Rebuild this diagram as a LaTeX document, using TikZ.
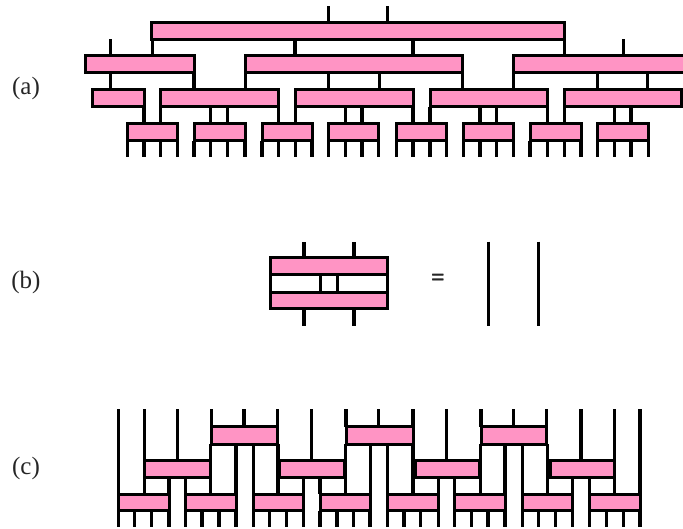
\documentclass[tikz,border=0pt]{standalone}
\usepackage{fontspec}
\setmainfont{Liberation Serif}
\definecolor{tpink}{RGB}{255,148,196}
\tikzset{
  tb/.style={draw=black,fill=tpink,rectangle,inner sep=0pt,outer sep=0pt,line width=3pt},
  wire/.style={draw=black,line width=3.2pt,line cap=butt},
  lab/.style={font=\fontsize{25}{30}\selectfont,inner sep=0pt,text=black!85}
}
% \tbox{name}{x1}{y1}{x2}{y2}
\newcommand{\tbox}[5]{%
  \pgfmathsetmacro{\tcx}{(#2+#4)/2}\pgfmathsetmacro{\tcy}{(#3+#5)/2}%
  \pgfmathsetmacro{\tw}{#4-#2}\pgfmathsetmacro{\th}{#5-#3}%
  \node[tb,minimum width=\tw pt,minimum height=\th pt] (#1) at (\tcx,\tcy) {};}
% \conn{upper node}{lower node}{x}
\newcommand{\conn}[3]{\draw[wire] (#1.south -| #3,0) -- (#2.north -| #3,0);}
\begin{document}
\begin{tikzpicture}[x=1pt,y=-1pt]
\useasboundingbox (0,0) rectangle (683,529);
\clip (0,0) rectangle (683,529);
% ---------- (a)
\node[lab] (la) at (26,88) {(a)};
\tbox{A}{151.7}{22.7}{564.3}{39.3}
\tbox{Ba}{85}{56}{194}{72.7}
\tbox{Bb}{245.7}{56}{462.7}{72.7}
\tbox{Bc}{513.3}{56}{732}{72.7}
\tbox{Ca}{92.3}{89.3}{144}{106.7}
\tbox{Cb}{160.7}{89.3}{278.3}{106.7}
\tbox{Cc}{295.7}{89.3}{413}{106.7}
\tbox{Cd}{430}{89.3}{547.7}{106.7}
\tbox{Ce}{564.3}{89.3}{681.7}{106.7}
\tbox{Da}{127.3}{123.3}{177.3}{141}
\tbox{Db}{194}{123.3}{245}{141}
\tbox{Dc}{262}{123.3}{312}{141}
\tbox{Dd}{328.3}{123.3}{378.3}{141}
\tbox{De}{396.7}{123.3}{446.7}{141}
\tbox{Df}{463.3}{123.3}{513.3}{141}
\tbox{Dg}{530}{123.3}{581}{141}
\tbox{Dh}{597.7}{123.3}{648.3}{141}
\coordinate (atop) at (0,6);
\coordinate (btop) at (0,39.3);
\coordinate (dbot) at (0,157);
\foreach \x in {328.3,387.3} \draw[wire] (A.north -| \x,0) -- (atop -| \x,0);
\conn{A}{Ba}{152.5}
\conn{A}{Bb}{295}
\conn{A}{Bb}{413}
\conn{A}{Bc}{564.3}
\draw[wire] (Ba.north -| 110.3,0) -- (btop -| 110.3,0);
\draw[wire] (Bc.north -| 623.3,0) -- (btop -| 623.3,0);
\conn{Ba}{Ca}{110.3}
\conn{Ba}{Cb}{194}
\conn{Bb}{Cb}{245.7}
\conn{Bb}{Cc}{328.3}
\conn{Bb}{Cc}{379.7}
\conn{Bb}{Cd}{462.7}
\conn{Bc}{Cd}{513.3}
\conn{Bc}{Ce}{597.7}
\conn{Bc}{Ce}{647.7}
\conn{Ca}{Da}{144}
\conn{Cb}{Da}{160.7}
\conn{Cb}{Db}{210.7}
\conn{Cb}{Db}{227.3}
\conn{Cb}{Dc}{278.3}
\conn{Cc}{Dc}{295.7}
\conn{Cc}{Dd}{345.3}
\conn{Cc}{Dd}{362}
\conn{Cc}{De}{413}
\conn{Cd}{De}{430}
\conn{Cd}{Df}{480}
\conn{Cd}{Df}{496.7}
\conn{Cd}{Dg}{547.7}
\conn{Ce}{Dg}{564.3}
\conn{Ce}{Dh}{614.3}
\conn{Ce}{Dh}{631}
\foreach \n/\xa/\xb/\xc/\xd in {Da/127.3/144/160.7/177.3,Db/194/210.7/227.3/245,Dc/262/278.3/295.7/312,Dd/328.3/345.3/362/378.3,De/396.7/413/430/446.7,Df/463.3/480/496.7/513.3,Dg/530/547.7/564.3/581,Dh/597.7/614.3/631/648.3}
  \foreach \x in {\xa,\xb,\xc,\xd} \draw[wire] (\n.south -| \x,0) -- (dbot -| \x,0);
% ---------- (b)
\node[lab] (lb) at (26,282) {(b)};
\tbox{Eb}{270}{292.3}{387.3}{308.3}
\tbox{Et}{270}{257.7}{387.3}{275}
\coordinate (etop) at (0,241.7);
\coordinate (ebot) at (0,325.7);
\draw[wire,line width=3pt] (Et.south west) -- (Eb.north west);
\draw[wire,line width=3pt] (Et.south east) -- (Eb.north east);
\foreach \x in {320.7,337.3} \conn{Et}{Eb}{\x}
\foreach \x in {304,354} {
  \draw[wire] (Et.north -| \x,0) -- (etop -| \x,0);
  \draw[wire] (Eb.south -| \x,0) -- (ebot -| \x,0);
}
\node[font=\fontsize{24}{28}\selectfont\bfseries,inner sep=0pt,text=black!85] (eq) at (438,280) {=};
\foreach \x in {488.7,538.7} \draw[wire] (etop -| \x,0) -- (ebot -| \x,0);
% ---------- (c)
\node[lab] (lc) at (26,468) {(c)};
\tbox{Fa}{211.7}{426.7}{277.7}{444}
\tbox{Fb}{346}{426.7}{413}{444}
\tbox{Fc}{481}{426.7}{546.7}{444}
\tbox{Ga}{144.3}{460.7}{210}{477.3}
\tbox{Gb}{279.3}{460.7}{344.3}{477.3}
\tbox{Gc}{415}{460.7}{479.3}{477.3}
\tbox{Gd}{550}{460.7}{614}{477.3}
\tbox{Ha}{118.3}{494}{169}{510.7}
\tbox{Hb}{185.3}{494}{236}{510.7}
\tbox{Hc}{253.3}{494}{303.3}{510.7}
\tbox{Hd}{320}{494}{370}{510.7}
\tbox{He}{387.3}{494}{438.3}{510.7}
\tbox{Hf}{454.7}{494}{505}{510.7}
\tbox{Hg}{522.7}{494}{572.7}{510.7}
\tbox{Hh}{589.3}{494}{640}{510.7}
\coordinate (ctop) at (0,409.3);
\coordinate (cbot) at (0,527.3);
% wires from the top edge to the top row of boxes
\foreach \n/\x in {Fa/211.7,Fa/244,Fa/277.7,Fb/346,Fb/378.7,Fb/413,Fc/481,Fc/513.3,Fc/546.7}
  \draw[wire] (ctop -| \x,0) -- (\n.north -| \x,0);
% wires from the top edge to the second row
\foreach \n/\x in {Ga/144.3,Ga/177.3,Gb/311.7,Gc/446.3,Gd/581}
  \draw[wire] (ctop -| \x,0) -- (\n.north -| \x,0);
% wires from the top edge to the third row
\foreach \n/\x in {Ha/118.3,Hh/640}
  \draw[wire] (ctop -| \x,0) -- (\n.north -| \x,0);
\draw[wire] (ctop -| 614.7,0) -- (Hh.north -| 614.7,0);
% wires from the first row to the second and third
\foreach \u/\n/\x in {Fa/Hb/210.7,Fa/Hc/278,Fb/Hd/345.5,Fb/He/413,Fc/Hf/480.3,Fc/Hg/547.3}
  \conn{\u}{\n}{\x}
\foreach \u/\n/\x in {Fa/Hb/236,Fa/Hc/253.3,Fb/Hd/370.5,Fb/He/387.3,Fc/Hf/505,Fc/Hg/522.7}
  \conn{\u}{\n}{\x}
% wires from the second row to the third
\foreach \u/\n/\x in {Ga/Ha/144.3,Ga/Ha/169,Ga/Hb/185.3,Gb/Hc/303.3,Gb/Hd/320,Gc/He/438.3,Gc/Hf/454.7,Gd/Hg/572.7,Gd/Hh/589.3}
  \conn{\u}{\n}{\x}
\foreach \n/\xa/\xb/\xc/\xd in {Ha/118.3/134.7/151.3/169,Hb/185.3/202/219/236,Hc/253.3/269.7/286.7/303.3,Hd/320/337/353.7/370,He/387.3/404/420.7/438.3,Hf/454.7/471.3/488/505,Hg/522.7/538.7/555.3/572.7,Hh/589.3/606.3/623.3/640}
  \foreach \x in {\xa,\xb,\xc,\xd} \draw[wire] (\n.south -| \x,0) -- (cbot -| \x,0);
\end{tikzpicture}
\end{document}
